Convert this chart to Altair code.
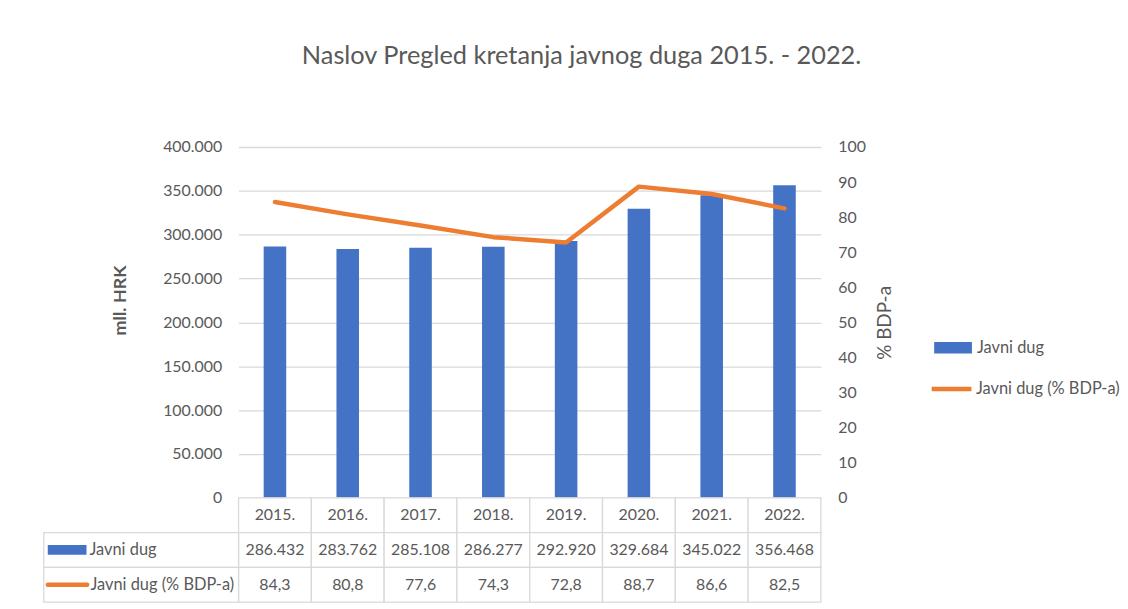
import altair as alt
import pandas as pd

years = ["2015.", "2016.", "2017.", "2018.", "2019.", "2020.", "2021.", "2022."]
debt = [286432, 283762, 285108, 286277, 292920, 329684, 345022, 356468]
debt_pct = [84.3, 80.8, 77.6, 74.3, 72.8, 88.7, 86.6, 82.5]
series = ["Javni dug", "Javni dug (% BDP-a)"]
title_text = "Naslov Pregled kretanja javnog duga 2015. - 2022."

BLUE = "#4472C4"
ORANGE = "#ED7D31"
GREY = "#595959"
LINE = "#D9D9D9"
FONT = "Lato"

W, H = 586, 353
n = len(years)

df = pd.DataFrame({"year": years, "debt": debt, "pct": debt_pct,
                   "s1": series[0], "s2": series[1]})

x_enc = alt.X("year:N", sort=years, axis=None,
              scale=alt.Scale(paddingInner=0.69, paddingOuter=0.345))

bars = alt.Chart(df).mark_bar().encode(
    x=x_enc,
    y=alt.Y("debt:Q",
            scale=alt.Scale(domain=[0, 400000], nice=False),
            axis=alt.Axis(values=list(range(0, 400001, 50000)),
                          labelExpr="replace(format(datum.value, ','), ',', '.')",
                          title="mll. HRK", titleFontWeight="bold",
                          titleFontSize=18, titlePadding=33, titleY=154,
                          grid=True, gridColor=LINE, gridWidth=1.3,
                          domain=False, ticks=False, tickSize=0,
                          labelPadding=17)),
    color=alt.Color("s1:N", scale=alt.Scale(domain=[series[0]], range=[BLUE]),
                    legend=alt.Legend(title=None, orient="none", legendX=700, legendY=183,
                                      symbolType="M-1,-0.3H1V0.3H-1Z", symbolSize=1444,
                                      symbolStrokeWidth=0, labelOffset=5)),
)

line = alt.Chart(df).mark_line(strokeWidth=4.5, strokeCap="round", strokeJoin="round").encode(
    x=x_enc,
    y=alt.Y("pct:Q",
            scale=alt.Scale(domain=[0, 100], nice=False),
            axis=alt.Axis(orient="right", values=list(range(0, 101, 10)),
                          title="% BDP-a", titleAngle=270, titleBaseline="top",
                          titleFontWeight="normal", titleFontSize=19, titlePadding=10,
                          grid=False, domain=False, ticks=False, tickSize=0,
                          labelPadding=17)),
    stroke=alt.Stroke("s2:N", scale=alt.Scale(domain=[series[1]], range=[ORANGE]),
                      legend=alt.Legend(title=None, orient="none", legendX=695, legendY=221,
                                        symbolType="stroke", symbolSize=1600,
                                        symbolStrokeWidth=4.5, labelOffset=2)),
)

top = alt.layer(bars, line).resolve_scale(y="independent").properties(width=W, height=H)

# ---- data table below the plot ----
debt_txt = [f"{v:,}".replace(",", ".") for v in debt]
pct_txt = [f"{v:.1f}".replace(".", ",") for v in debt_pct]

rows = []
for i in range(n):
    rows.append({"c0": i, "c1": i + 1, "r0": 0, "r1": 1, "t": years[i]})
    rows.append({"c0": i, "c1": i + 1, "r0": 1, "r1": 2, "t": debt_txt[i]})
    rows.append({"c0": i, "c1": i + 1, "r0": 2, "r1": 3, "t": pct_txt[i]})
cells = pd.DataFrame(rows)

LABEL_W = 196 / 73.25  # label column width in column units
lab = pd.DataFrame({"c0": [-LABEL_W, -LABEL_W], "c1": [0, 0], "r0": [1, 2], "r1": [2, 3],
                    "t": series, "tx": [-2.048, -2.035]})

xs = alt.Scale(domain=[0, n], nice=False, zero=False)
ys = alt.Scale(domain=[0, 3], nice=False, reverse=True)

grid_cells = alt.Chart(cells).mark_rect(fill="white", stroke=LINE, strokeWidth=1.3).encode(
    x=alt.X("c0:Q", scale=xs, axis=None), x2="c1:Q",
    y=alt.Y("r0:Q", scale=ys, axis=None), y2="r1:Q")

cell_text = alt.Chart(cells).transform_calculate(
    xm="(datum.c0 + datum.c1) / 2", ym="(datum.r0 + datum.r1) / 2"
).mark_text(font=FONT, fontSize=16, color=GREY, baseline="middle").encode(
    x=alt.X("xm:Q", scale=xs, axis=None), y=alt.Y("ym:Q", scale=ys, axis=None), text="t:N")

lab_cells = alt.Chart(lab).mark_rect(fill="white", stroke=LINE, strokeWidth=1.3).encode(
    x=alt.X("c0:Q", scale=xs, axis=None), x2="c1:Q",
    y=alt.Y("r0:Q", scale=ys, axis=None), y2="r1:Q")

lab_text = alt.Chart(lab).transform_calculate(
    ym="(datum.r0 + datum.r1) / 2"
).mark_text(font=FONT, fontSize=16.5, color=GREY, baseline="middle", align="left").encode(
    x=alt.X("tx:Q", scale=xs, axis=None), y=alt.Y("ym:Q", scale=ys, axis=None), text="t:N")

sw = pd.DataFrame({"s": series, "x0": [-2.621, -2.62], "x1": [-2.089, -2.08],
                   "y": [1.5, 2.5]})
sw_bar = alt.Chart(sw.iloc[[0]]).mark_rect(color=BLUE).transform_calculate(
    ya="datum.y - 0.14", yb="datum.y + 0.14").encode(
    x=alt.X("x0:Q", scale=xs, axis=None), x2="x1:Q",
    y=alt.Y("ya:Q", scale=ys, axis=None), y2="yb:Q")
sw_line = alt.Chart(sw.iloc[[1]]).mark_rule(color=ORANGE, strokeWidth=4.5, strokeCap="round").encode(
    x=alt.X("x0:Q", scale=xs, axis=None), x2="x1:Q",
    y=alt.Y("y:Q", scale=ys, axis=None))

table = alt.layer(grid_cells, lab_cells, cell_text, lab_text, sw_bar, sw_line).properties(
    width=W, height=105)

chart = alt.vconcat(top, table, spacing=0, bounds="flush").properties(
    title=alt.TitleParams(title_text, fontSize=25.5, font=FONT, fontWeight="normal",
                          color=GREY, anchor="middle", offset=70),
    padding={"left": 35, "top": 34, "right": 0, "bottom": 0},
).configure_view(stroke=None).configure_axis(
    labelFont=FONT, labelFontSize=16, labelColor=GREY, titleFont=FONT, titleColor=GREY
).configure_legend(
    labelFont=FONT, labelFontSize=16.5, labelColor=GREY, padding=0
)

chart.save("out.html", embed_options={"renderer": "svg", "actions": False})
